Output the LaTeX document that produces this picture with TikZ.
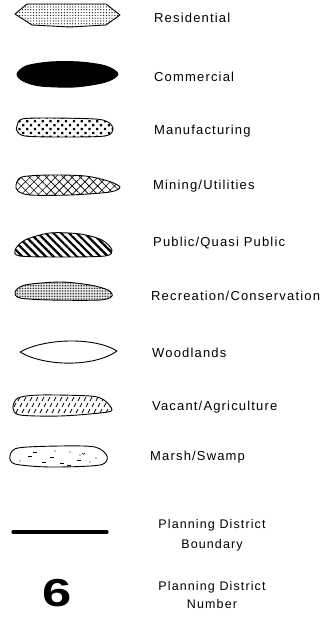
\documentclass[tikz,border=0pt]{standalone}
\usepackage{fontspec}
\setmainfont{Liberation Sans}[LetterSpace=9]
\usetikzlibrary{patterns.meta}
\begin{document}
\begin{tikzpicture}[x=1pt,y=-1pt,line join=round,
  blob/.style={draw,line width=0.9pt},
  lbl/.style={anchor=base west,inner sep=0pt,font=\fontsize{13}{15}\selectfont},
  pdlbl/.style={anchor=base,inner sep=0pt,font=\fontsize{12.5}{15}\selectfont}]
  \useasboundingbox (0,0) rectangle (330,623);
  % Residential
  \draw[blob,pattern={Dots[radius=0.6pt,distance=2.8pt]}]
    (15,14) -- (27,4) -- (106,4) -- (120,15) -- (106,25) -- (70,27) -- (32,25) -- cycle;
  \node[lbl] (res) at (154,23) {Residential};
  % Commercial
  \draw[blob,fill=black] plot[smooth cycle] coordinates
    {(17,74) (26,66) (50,62) (80,62) (106,66) (118,74) (106,82) (75,87) (40,86) (23,81)};
  \node[lbl] (com) at (154,82) {Commercial};
  % Manufacturing
  \draw[blob,pattern={Dots[radius=1.6pt,distance=5.5pt,angle=45]}] plot[smooth cycle] coordinates
    {(17,126) (22,119) (50,118) (95,119) (108,122) (113,129) (105,136) (60,137) (25,136) (17,131)};
  \node[lbl] (man) at (154,135) {Manufacturing};
  % Mining/Utilities
  \draw[blob,pattern={Hatch[distance=6pt,angle=45,line width=0.6pt]}] plot[smooth cycle] coordinates
    {(16,185) (22,177) (50,175) (85,176) (108,181) (120,187) (110,192) (70,195) (30,195) (18,191)};
  \node[lbl] (min) at (153,189) {Mining/Utilities};
  % Public/Quasi Public
  \draw[blob,pattern={Lines[angle=-45,distance=5.5pt,line width=2.2pt]}] plot[smooth cycle] coordinates
    {(15,250) (25,240) (50,233) (80,234) (102,240) (112,250) (105,256) (60,257) (20,256)};
  \node[lbl] (pub) at (153,246) {Public/Quasi Public};
  % Recreation/Conservation
  \draw[blob,pattern={Dots[radius=0.5pt,distance=1.6pt]}] plot[smooth cycle] coordinates
    {(15,292) (25,285) (60,282) (90,285) (108,290) (112,296) (100,300) (50,300) (20,298)};
  \node[lbl] (rec) at (151,300) {Recreation/Conservation};
  % Woodlands
  \draw[blob] (20,352) .. controls (45,338) and (95,337) .. (117,351)
    .. controls (95,367) and (45,367) .. (20,352);
  \node[lbl] (wood) at (152,357) {Woodlands};
  % Vacant/Agriculture
  \begin{scope}
    \clip plot[smooth cycle] coordinates
      {(13,408) (18,398) (40,395) (90,396) (104,400) (112,410) (100,413) (60,416) (20,415)};
    \foreach \r in {0,1,2}
      \foreach \i in {0,...,17}
        \draw[line width=0.8pt] ({12+\i*6+\r*2},{401+\r*6}) -- ++(2,-4);
  \end{scope}
  \draw[blob] plot[smooth cycle] coordinates
    {(13,408) (18,398) (40,395) (90,396) (104,400) (112,410) (100,413) (60,416) (20,415)};
  \node[lbl] (vac) at (152,410) {Vacant/Agriculture};
  % Marsh/Swamp
  \draw[blob] plot[smooth cycle] coordinates
    {(10,456) (18,448) (60,446) (95,447) (107,456) (100,465) (50,467) (15,464)};
  \foreach \x/\y in {33/452,50/457,42/462,60/463,77/460,67/465,28/456}
    \draw[line width=0.7pt] (\x,\y) -- ++(4,0);
  \foreach \x/\y in {70/452,80/455,20/461,90/462,55/451,96/458}
    \fill (\x,\y) circle (0.7pt);
  \draw[line width=0.6pt] (82,453) arc (180:0:1.5);
  \node[lbl] (marsh) at (150,460) {Marsh/Swamp};
  % Planning District Boundary
  \coordinate (bl) at (13,532);
  \coordinate (br) at (107,532);
  \draw[line width=3.2pt,line cap=round] (bl) -- (br);
  \node[pdlbl] (pdb1) at (212,528) {Planning District};
  \node[pdlbl] (pdb2) at (212,548) {Boundary};
  % Planning District Number
  \node[inner sep=0pt,font=\fontsize{39}{39}\bfseries] (six) at (57,593) {\scalebox{1.35}[1]{6}};
  \node[pdlbl] (pdn1) at (212,590) {Planning District};
  \node[pdlbl] (pdn2) at (212,608) {Number};
\end{tikzpicture}
\end{document}
